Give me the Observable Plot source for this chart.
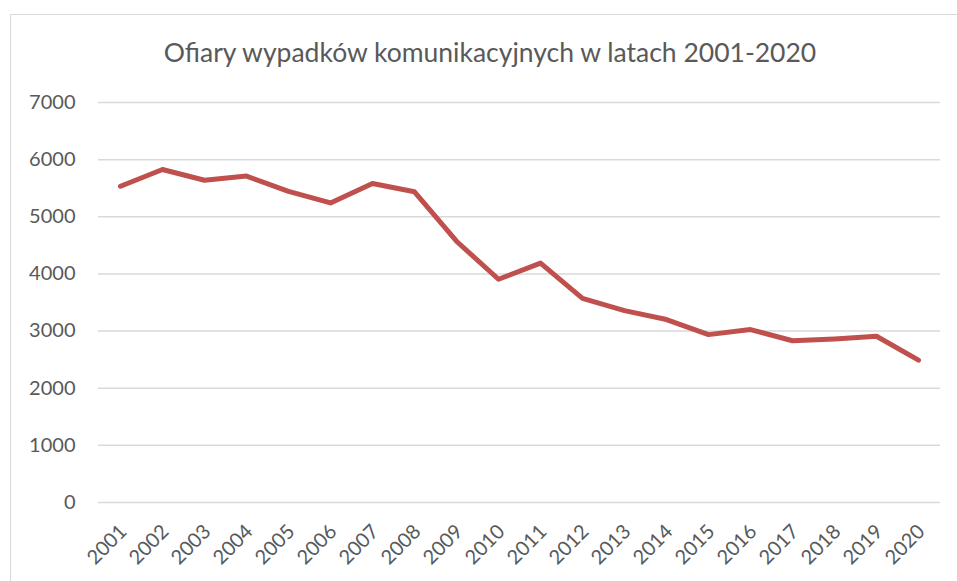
<!DOCTYPE html>
<html><head><meta charset="utf-8">
<script src="https://cdn.jsdelivr.net/npm/d3@7"></script>
<script src="https://cdn.jsdelivr.net/npm/@observablehq/plot@0.6"></script>
<style>
body{margin:0;background:#fff;font-family:Lato,"Open Sans",sans-serif;}
#wrap{position:relative;width:957px;height:581px;overflow:hidden;}
#frame{position:absolute;left:10px;top:14px;width:960px;height:600px;border:1px solid #d9d9d9;box-sizing:border-box;}
#title{position:absolute;left:0;width:980px;top:36px;text-align:center;font-size:26.5px;color:#595959;}
#chart{position:absolute;left:0;top:0;}
</style></head><body>
<div id="wrap"><div id="frame"></div><div id="chart"></div><div id="title">Ofiary wypadków komunikacyjnych w latach 2001-2020</div></div>
<script>
const years = ["2001","2002","2003","2004","2005","2006","2007","2008","2009","2010","2011","2012","2013","2014","2015","2016","2017","2018","2019","2020"];
const victims = [5534,5827,5640,5712,5444,5243,5583,5437,4572,3907,4189,3571,3357,3202,2938,3026,2831,2862,2909,2491];
const yTicks = [0,1000,2000,3000,4000,5000,6000,7000];
const data = years.map((y,i)=>({year:y, value:victims[i]}));
const plot = Plot.plot({
  width:957, height:581,
  marginLeft:98, marginRight:17, marginTop:102, marginBottom:79,
  style:{fontFamily:"Lato, 'Open Sans', sans-serif", color:"#595959", background:"transparent"},
  x:{type:"point", domain:years, padding:0.5, axis:null},
  y:{domain:[0,7000], axis:null},
  marks:[
    Plot.ruleY(yTicks,{stroke:"#d9d9d9", strokeWidth:1.5}),
    Plot.axisY({ticks:yTicks, tickSize:0, tickPadding:0, dx:-23, label:null, tickFormat:d=>String(d), fontSize:20, fill:"#595959"}),
    Plot.axisX({ticks:years, tickSize:0, tickRotate:-45, label:null, fontSize:20, fill:"#595959", textAnchor:"end", dy:14, dx:3}),
    Plot.line(data,{x:"year", y:"value", stroke:"#c0504d", strokeWidth:5, strokeLinejoin:"round", strokeLinecap:"round"})
  ]
});
document.getElementById("chart").appendChild(plot);
</script></body></html>
